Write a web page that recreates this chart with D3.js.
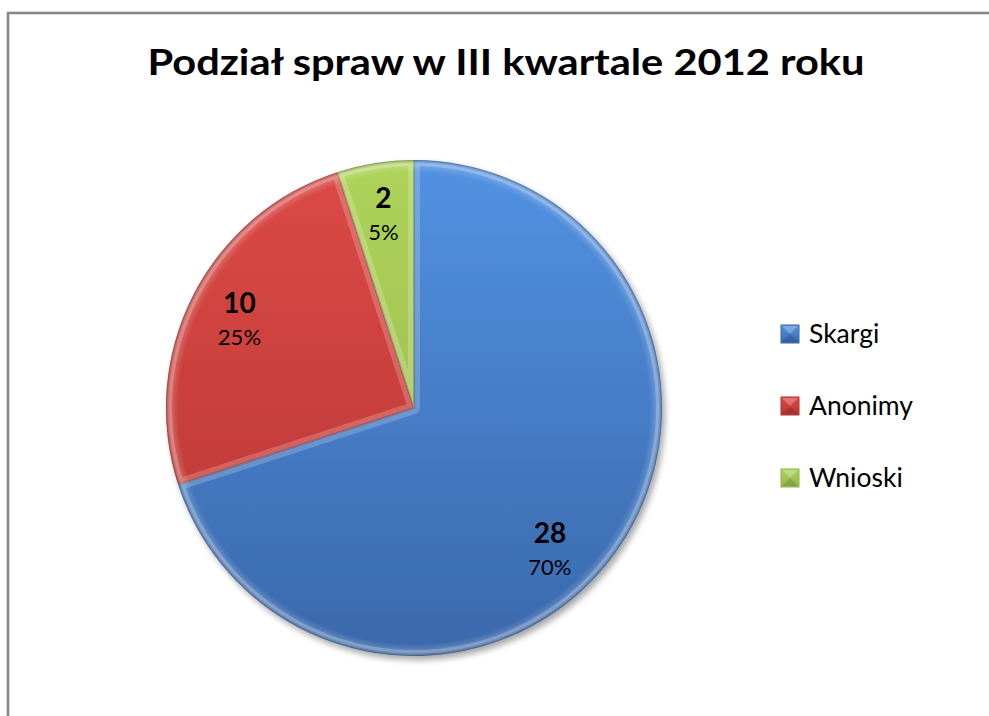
<!DOCTYPE html>
<html>
<head>
<meta charset="utf-8">
<script src="https://cdn.jsdelivr.net/npm/d3@7"></script>
<style>
  html, body { margin: 0; padding: 0; background: #fff; }
  svg { display: block; }
</style>
</head>
<body>
<div id="chart"></div>
<script>
// ---- data ----
const title = "Podział spraw w III kwartale 2012 roku";
const categories = ["Skargi", "Anonimy", "Wnioski"];
const values = [28, 10, 2];
const percentLabels = ["70%", "25%", "5%"];
const colorsTop = ["#5292e2", "#dc4a46", "#aed35a"];
const colorsBottom = ["#3a68ab", "#b63532", "#94b54a"];

const W = 989, H = 716;
const svg = d3.select("#chart").append("svg").attr("width", W).attr("height", H);
const defs = svg.append("defs");

// chart frame
svg.append("rect").attr("x", 8).attr("y", 13).attr("width", 1000).attr("height", 720)
  .attr("fill", "#fff").attr("stroke", "#878787").attr("stroke-width", 2.6);

// title
const t = svg.append("text").attr("x", 506).attr("y", 75).attr("text-anchor", "middle")
  .attr("font-family", "Lato, 'Open Sans', sans-serif").attr("font-weight", "bold")
  .attr("font-size", 37).attr("fill", "#000").text(title);
const tw = t.node().getComputedTextLength();
if (Math.abs(tw - 717) > 4) t.attr("textLength", 717).attr("lengthAdjust", "spacingAndGlyphs");

// pie
const cx = 414, cy = 408, R = 248;
const pie = d3.pie().sort(null).value(d => d.value).startAngle(0).endAngle(2 * Math.PI);
const data = categories.map((c, i) => ({ name: c, value: values[i], pct: percentLabels[i], i }));
const arcs = pie(data);
const arc = d3.arc().innerRadius(0).outerRadius(R);

// gradients
data.forEach((d, i) => {
  const g = defs.append("linearGradient").attr("id", "g" + i)
    .attr("gradientUnits", "userSpaceOnUse")
    .attr("x1", 0).attr("y1", -R).attr("x2", 0).attr("y2", R);
  g.append("stop").attr("offset", "0%").attr("stop-color", colorsTop[i]);
  g.append("stop").attr("offset", "100%").attr("stop-color", colorsBottom[i]);
  const lg = defs.append("linearGradient").attr("id", "lg" + i)
    .attr("x1", 0).attr("y1", 0).attr("x2", 0).attr("y2", 1);
  lg.append("stop").attr("offset", "0%").attr("stop-color", colorsTop[i]);
  lg.append("stop").attr("offset", "100%").attr("stop-color", colorsBottom[i]);
});
const rim = defs.append("radialGradient").attr("id", "rim")
  .attr("gradientUnits", "userSpaceOnUse").attr("cx", 0).attr("cy", 0).attr("r", R);
rim.append("stop").attr("offset", "0.95").attr("stop-color", "#fff").attr("stop-opacity", 0);
rim.append("stop").attr("offset", "0.985").attr("stop-color", "#fff").attr("stop-opacity", 0.22);
rim.append("stop").attr("offset", "1").attr("stop-color", "#000").attr("stop-opacity", 0.15);

const sh = defs.append("filter").attr("id", "shadow").attr("x", "-10%").attr("y", "-10%")
  .attr("width", "130%").attr("height", "130%");
sh.append("feGaussianBlur").attr("in", "SourceAlpha").attr("stdDeviation", 3).attr("result", "b");
sh.append("feOffset").attr("in", "b").attr("dx", 3).attr("dy", 4).attr("result", "o");
sh.append("feComponentTransfer").attr("in", "o").attr("result", "o2")
  .append("feFuncA").attr("type", "linear").attr("slope", 0.35);
const m = sh.append("feMerge");
m.append("feMergeNode").attr("in", "o2");
m.append("feMergeNode").attr("in", "SourceGraphic");

const gPie = svg.append("g").attr("transform", `translate(${cx},${cy})`);
const shadowG = gPie.append("g").attr("filter", "url(#shadow)");

arcs.forEach((a, i) => {
  defs.append("clipPath").attr("id", "clip" + i).append("path").attr("d", arc(a));
});

shadowG.selectAll("path.slice").data(arcs).join("path").attr("class", "slice")
  .attr("d", arc).attr("fill", (d, i) => `url(#g${i})`);

// bevel highlights per slice
gPie.selectAll("path.bevel").data(arcs).join("path").attr("class", "bevel")
  .attr("d", arc).attr("fill", "none")
  .attr("clip-path", (d, i) => `url(#clip${i})`)
  .attr("stroke", "#fff").attr("stroke-opacity", 0.2).attr("stroke-width", 12)
  .attr("stroke-linejoin", "round");
gPie.selectAll("path.edge").data(arcs).join("path").attr("class", "edge")
  .attr("d", arc).attr("fill", "none")
  .attr("clip-path", (d, i) => `url(#clip${i})`)
  .attr("stroke", "#000").attr("stroke-opacity", 0.18).attr("stroke-width", 2);
gPie.append("circle").attr("r", R).attr("fill", "url(#rim)");

// labels (large slices: Excel best-fit places label further along the slice)
const labelArc = d3.arc().innerRadius(R * 0.79).outerRadius(R * 0.79);
const labelPos = d => {
  const span = d.endAngle - d.startAngle;
  const a = span > Math.PI ? d.startAngle + span * 0.54 : (d.startAngle + d.endAngle) / 2;
  return labelArc.centroid({ startAngle: a, endAngle: a });
};
const lab = gPie.selectAll("g.lab").data(arcs).join("g").attr("class", "lab")
  .attr("transform", d => { const c = labelPos(d); return `translate(${c[0]},${c[1]})`; });
lab.append("text").attr("y", -6).attr("text-anchor", "middle")
  .attr("font-family", "Lato, sans-serif").attr("font-weight", "bold").attr("font-size", 28)
  .attr("fill", "#000").text(d => d.data.value);
lab.append("text").attr("y", 26).attr("text-anchor", "middle")
  .attr("font-family", "Lato, sans-serif").attr("font-size", 22)
  .attr("fill", "#000").text(d => d.data.pct);

// legend
const leg = svg.append("g").attr("transform", "translate(781,0)");
const legY = d3.scalePoint().domain(categories).range([343, 487]);
const li = leg.selectAll("g").data(data).join("g")
  .attr("transform", d => `translate(0,${legY(d.name)})`);
li.append("rect").attr("x", 0).attr("y", -18).attr("width", 18).attr("height", 18)
  .attr("fill", (d, i) => `url(#lg${i})`).attr("stroke", (d, i) => colorsBottom[i]).attr("stroke-width", 1);
li.append("path").attr("d", "M1,-17 L9,-9 L17,-17 Z").attr("fill", "#fff").attr("fill-opacity", 0.25);
li.append("path").attr("d", "M1,-1 L9,-9 L17,-1 Z").attr("fill", "#000").attr("fill-opacity", 0.12);
li.append("text").attr("x", 28).attr("y", 0)
  .attr("font-family", "Lato, sans-serif").attr("font-size", 26.5).attr("fill", "#000")
  .text(d => d.name);
</script>
</body>
</html>
